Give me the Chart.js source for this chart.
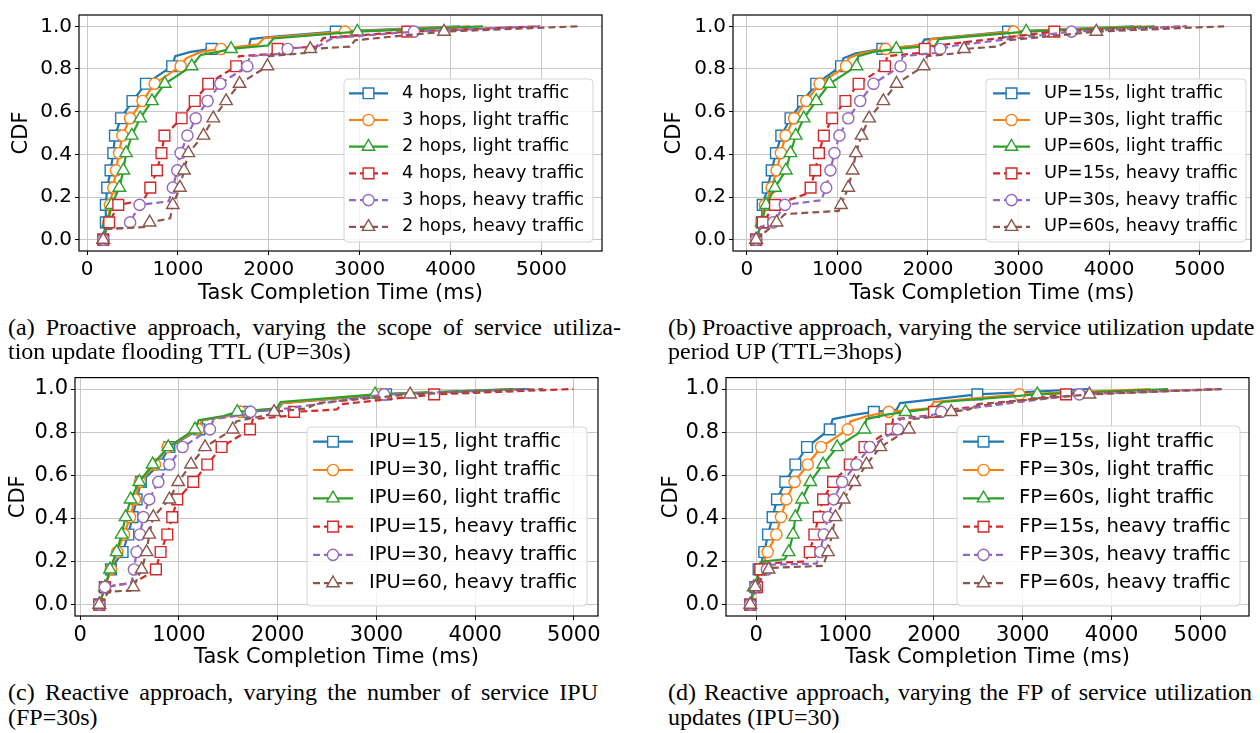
<!DOCTYPE html>
<html>
<head>
<meta charset="utf-8">
<script src="https://cdn.jsdelivr.net/npm/chart.js@4.4.1/dist/chart.umd.min.js"></script>
<style>
  html, body { margin: 0; padding: 0; background: #fff; }
  body { width: 1260px; height: 733px; position: relative; overflow: hidden; }
  canvas { position: absolute; }
  .cap { position: absolute; font-family: "Liberation Serif", "DejaVu Serif", serif; font-size: 24px;
         line-height: 24px; color: #000; white-space: nowrap; }
  .cap.j { text-align: justify; text-align-last: justify; }
</style>
</head>
<body>
<canvas id="chartA" width="630" height="312" style="left:0;top:0"></canvas>
<canvas id="chartB" width="620" height="312" style="left:640px;top:0"></canvas>
<canvas id="chartC" width="630" height="310" style="left:0;top:362px"></canvas>
<canvas id="chartD" width="620" height="310" style="left:640px;top:362px"></canvas>

<div class="cap j" style="left:8px;top:315px;width:613px">(a) Proactive approach, varying the scope of service utiliza-</div>
<div class="cap" style="left:8px;top:339px">tion update flooding TTL (UP=30s)</div>
<div class="cap j" style="left:668px;top:315px;width:584px">(b) Proactive approach, varying the service utilization update</div>
<div class="cap" style="left:668px;top:339px">period UP (TTL=3hops)</div>
<div class="cap j" style="left:8px;top:680px;width:590px">(c) Reactive approach, varying the number of service IPU</div>
<div class="cap" style="left:8px;top:705px">(FP=30s)</div>
<div class="cap j" style="left:668px;top:680px;width:584px">(d) Reactive approach, varying the FP of service utilization</div>
<div class="cap" style="left:668px;top:705px">updates (IPU=30)</div>

<script>
// CDF levels where the markers sit (same for every curve)
var LEVELS = [0, 0.081, 0.163, 0.244, 0.325, 0.406, 0.488, 0.569, 0.650, 0.731, 0.813, 0.894, 0.975];
var X_TICKS = [0, 1000, 2000, 3000, 4000, 5000];
var Y_TICKS = [0, 0.2, 0.4, 0.6, 0.8, 1.0];

var COLORS = ['#1f77b4', '#ff7f0e', '#2ca02c', '#d62728', '#9467bd', '#8c564b'];
var STYLES = ['rect', 'circle', 'triangle', 'rect', 'circle', 'triangle'];

// (a) flooding TTL
var aLabels = ['4 hops, light traffic', '3 hops, light traffic', '2 hops, light traffic',
               '4 hops, heavy traffic', '3 hops, heavy traffic', '2 hops, heavy traffic'];
var aMarkX = [
  [178, 207, 207, 222, 259, 289, 307, 374, 500, 648, 937, 1370, 2736],
  [178, 233, 252, 289, 319, 352, 389, 474, 611, 744, 1030, 1474, 2838],
  [178, 233, 270, 356, 400, 430, 493, 585, 715, 856, 1152, 1585, 2974],
  [178, 244, 344, 696, 770, 819, 852, 1041, 1185, 1333, 1641, 2096, 3524],
  [178, 474, 578, 944, 993, 1030, 1104, 1196, 1326, 1467, 1763, 2207, 3597],
  [178, 689, 944, 1022, 1067, 1115, 1281, 1389, 1530, 1678, 1985, 2456, 3927]
];
var aEndX = [4103, 4213, 4356, 4983, 4983, 5400];
var aKnots = [
  [[970, 0.86], [1140, 0.88], [1780, 0.905], [1800, 0.94], [2000, 0.95]],
  [[1090, 0.85], [1250, 0.88], [1880, 0.915], [1950, 0.945]],
  [[1250, 0.866], [1440, 0.88], [1990, 0.91], [2050, 0.943]],
  [[622, 0.185], [1670, 0.86], [2030, 0.87], [2530, 0.905], [2600, 0.945]],
  [[200, 0.05], [460, 0.055], [900, 0.18], [1790, 0.86], [2100, 0.87], [2560, 0.91], [2700, 0.945]],
  [[200, 0.05], [660, 0.06], [915, 0.1], [2000, 0.86], [2400, 0.875], [2890, 0.905], [2950, 0.935]]
];

// (b) update period UP
var bLabels = ['UP=15s, light traffic', 'UP=30s, light traffic', 'UP=60s, light traffic',
               'UP=15s, heavy traffic', 'UP=30s, heavy traffic', 'UP=60s, heavy traffic'];
var bMarkX = [
  [102, 164, 175, 230, 274, 321, 380, 482, 620, 766, 1040, 1496, 2884],
  [102, 164, 200, 274, 328, 376, 427, 522, 657, 803, 1095, 1533, 2946],
  [102, 164, 212, 310, 431, 482, 540, 628, 766, 912, 1212, 1650, 3085],
  [102, 175, 310, 704, 755, 796, 850, 942, 1088, 1234, 1526, 1964, 3395],
  [102, 292, 420, 876, 923, 967, 1022, 1120, 1252, 1398, 1697, 2135, 3585],
  [102, 328, 1040, 1120, 1168, 1204, 1266, 1350, 1507, 1653, 1953, 2398, 3859]
];
var bEndX = [4273, 4362, 4505, 4856, 4856, 5270];
var bKnots = [
  [[1066, 0.85], [1204, 0.874], [1930, 0.912], [1960, 0.938]],
  [[1120, 0.85], [1260, 0.874], [2000, 0.915], [2030, 0.94]],
  [[1230, 0.86], [1400, 0.88], [2080, 0.91], [2120, 0.94]],
  [[657, 0.215], [1550, 0.86], [1900, 0.875], [2100, 0.91]],
  [[150, 0.06], [821, 0.185], [1720, 0.86], [2080, 0.875], [2300, 0.91]],
  [[420, 0.12], [1015, 0.135], [1990, 0.86], [2350, 0.875], [2770, 0.905], [2900, 0.935]]
];

// (c) number of IPU
var cLabels = ['IPU=15, light traffic', 'IPU=30, light traffic', 'IPU=60, light traffic',
               'IPU=15, heavy traffic', 'IPU=30, heavy traffic', 'IPU=60, heavy traffic'];
var cMarkX = [
  [193, 250, 311, 429, 487, 530, 571, 615, 801, 903, 1207, 1680, 3098],
  [193, 250, 311, 375, 443, 504, 554, 605, 757, 885, 1196, 1625, 3020],
  [193, 250, 301, 368, 419, 459, 510, 598, 733, 892, 1162, 1591, 2987],
  [193, 250, 767, 814, 882, 932, 983, 1145, 1287, 1432, 1720, 2166, 3585],
  [193, 250, 544, 571, 605, 639, 699, 791, 903, 1037, 1314, 1726, 3078],
  [193, 537, 622, 672, 699, 740, 903, 993, 1122, 1264, 1545, 1964, 3342]
];
var cEndX = [4509, 4424, 4388, 4995, 4550, 4690];
var cKnots = [
  [[1240, 0.855], [1500, 0.875], [2000, 0.905], [2050, 0.935]],
  [[1230, 0.855], [1500, 0.875], [2000, 0.91], [2040, 0.935]],
  [[1200, 0.855], [1450, 0.875], [1990, 0.91], [2030, 0.94]],
  [[560, 0.105], [1750, 0.86], [2100, 0.875], [2600, 0.905], [2650, 0.93]],
  [[520, 0.1], [1350, 0.86], [1650, 0.88], [2100, 0.91]],
  [[290, 0.06], [510, 0.065], [1580, 0.85], [1900, 0.88], [2300, 0.91], [2400, 0.935]]
];

// (d) FP of updates
var dLabels = ['FP=15s, light traffic', 'FP=30s, light traffic', 'FP=60s, light traffic',
               'FP=15s, heavy traffic', 'FP=30s, heavy traffic', 'FP=60s, heavy traffic'];
var dMarkX = [
  [-68, -11, 26, 90, 132, 184, 233, 327, 440, 571, 827, 1323, 2489],
  [-68, -11, 45, 128, 226, 278, 338, 432, 579, 729, 1030, 1492, 2962],
  [-68, -30, 45, 365, 414, 440, 515, 609, 752, 910, 1218, 1680, 3164],
  [-68, 8, 45, 602, 654, 703, 752, 865, 1053, 1218, 1519, 2000, 3488],
  [-68, -11, 120, 722, 759, 808, 872, 966, 1128, 1278, 1594, 2083, 3638],
  [-68, -11, 139, 808, 853, 891, 985, 1105, 1241, 1398, 1718, 2195, 3751]
];
var dEndX = [3739, 4434, 4637, 5240, 5240, 5240];
var dKnots = [
  [[60, 0.2], [860, 0.86], [1100, 0.88], [1580, 0.905], [1620, 0.935]],
  [[90, 0.2], [1060, 0.85], [1250, 0.875], [1950, 0.91], [2000, 0.94]],
  [[70, 0.2], [320, 0.21], [1240, 0.86], [1450, 0.88], [2000, 0.91], [2100, 0.94]],
  [[80, 0.19], [553, 0.2], [1540, 0.86], [1900, 0.875], [2300, 0.91]],
  [[150, 0.185], [680, 0.19], [1620, 0.86], [1950, 0.875], [2400, 0.91]],
  [[160, 0.17], [752, 0.18], [1740, 0.86], [2100, 0.875], [2400, 0.905], [2500, 0.93]]
];

var FONT = '"DejaVu Sans", Verdana, sans-serif';
var MARKER_R = { rect: 7.6, circle: 5.6, triangle: 7.2 };

function drawMarker(ctx, style, x, y, r) {
  ctx.beginPath();
  if (style === 'rect') {
    var h = r * Math.SQRT1_2;
    ctx.rect(x - h, y - h, 2 * h, 2 * h);
  } else if (style === 'circle') {
    ctx.arc(x, y, r, 0, Math.PI * 2);
  } else {
    ctx.moveTo(x, y - r);
    ctx.lineTo(x + r * 0.866, y + r * 0.5);
    ctx.lineTo(x - r * 0.866, y + r * 0.5);
    ctx.closePath();
  }
  ctx.fillStyle = '#fff';
  ctx.fill();
  ctx.stroke();
}

// frame round the axes, plus a matplotlib-like legend inside the plot
var frameLegend = {
  id: 'frameLegend',
  afterDatasetsDraw: function (chart, args, o) {
    var ctx = chart.ctx, a = chart.chartArea;
    ctx.save();
    ctx.strokeStyle = '#000';
    ctx.lineWidth = 1.2;
    ctx.strokeRect(a.left, a.top, a.right - a.left, a.bottom - a.top);

    ctx.beginPath();
    if (ctx.roundRect) ctx.roundRect(o.x, o.y, o.w, o.h, 4); else ctx.rect(o.x, o.y, o.w, o.h);
    ctx.fillStyle = 'rgba(255,255,255,0.82)';
    ctx.fill();
    ctx.strokeStyle = '#d5d5d5';
    ctx.lineWidth = 1;
    ctx.stroke();

    chart.data.datasets.forEach(function (ds, i) {
      var y = o.y0 + i * o.row;
      ctx.strokeStyle = ds.borderColor;
      ctx.lineWidth = ds.borderWidth;
      ctx.setLineDash(ds.borderDash || []);
      ctx.beginPath();
      ctx.moveTo(o.lx0, y);
      ctx.lineTo(o.lx1, y);
      ctx.stroke();
      ctx.setLineDash([]);
      ctx.lineWidth = 1.4;
      drawMarker(ctx, ds.pointStyle, (o.lx0 + o.lx1) / 2, y, MARKER_R[ds.pointStyle]);
      ctx.fillStyle = '#000';
      ctx.font = o.font + 'px ' + FONT;
      ctx.textBaseline = 'middle';
      ctx.textAlign = 'left';
      ctx.fillText(ds.label, o.tx, y);
    });
    ctx.restore();
  }
};

function buildDatasets(labels, markX, endX, knots) {
  return labels.map(function (lab, i) {
    var pts = markX[i].map(function (x, k) { return { x: x, y: LEVELS[k], m: true }; });
    knots[i].forEach(function (p) { pts.push({ x: p[0], y: p[1], m: false }); });
    pts.push({ x: endX[i], y: 1.0, m: false });
    pts.sort(function (p, q) { return p.y - q.y || p.x - q.x; });
    var style = STYLES[i];
    return {
      label: lab,
      data: pts,
      borderColor: COLORS[i],
      borderWidth: 2.2,
      borderDash: i >= 3 ? [7, 4] : [],
      pointStyle: style,
      pointRadius: pts.map(function (p) { return p.m ? MARKER_R[style] : 0; }),
      pointBackgroundColor: '#fff',
      pointBorderColor: COLORS[i],
      pointBorderWidth: 1.4,
      pointHoverRadius: 0,
      tension: 0,
      order: labels.length - i
    };
  });
}

function makeChart(id, cfg) {
  var tickFont = { family: FONT, size: cfg.tickSize };
  var titleFont = { family: FONT, size: 21 };
  new Chart(document.getElementById(id), {
    type: 'line',
    data: { datasets: buildDatasets(cfg.labels, cfg.markX, cfg.endX, cfg.knots) },
    options: {
      responsive: false,
      animation: false,
      events: [],
      layout: { padding: cfg.padding },
      plugins: { legend: { display: false }, tooltip: { enabled: false }, frameLegend: cfg.legend },
      scales: {
        x: {
          type: 'linear', min: cfg.xMin, max: cfg.xMax,
          afterBuildTicks: function (s) { s.ticks = X_TICKS.map(function (v) { return { value: v }; }); },
          afterFit: function (s) { s.height = cfg.xHeight; },
          grid: { color: '#c8c8c8', lineWidth: 1, tickColor: '#000', tickLength: 4 },
          border: { display: false },
          ticks: { font: tickFont, color: '#000', padding: 3, maxRotation: 0, autoSkip: false,
                   callback: function (v) { return String(v); } },
          title: { display: true, text: 'Task Completion Time (ms)', font: titleFont, color: '#000',
                   padding: { top: 0, bottom: cfg.xTitlePad } }
        },
        y: {
          type: 'linear', min: -0.053, max: 1.053,
          afterBuildTicks: function (s) { s.ticks = Y_TICKS.map(function (v) { return { value: v }; }); },
          afterFit: function (s) { s.width = cfg.yWidth; },
          grid: { color: '#c8c8c8', lineWidth: 1, tickColor: '#000', tickLength: 4 },
          border: { display: false },
          ticks: { font: tickFont, color: '#000', padding: 3, autoSkip: false,
                   callback: function (v) { return v.toFixed(1); } },
          title: { display: true, text: 'CDF', font: titleFont, color: '#000',
                   padding: { top: cfg.yTitlePad, bottom: 0 } }
        }
      }
    },
    plugins: [frameLegend]
  });
}

makeChart('chartA', {
  labels: aLabels, markX: aMarkX, endX: aEndX, knots: aKnots,
  xMin: -88, xMax: 5665, tickSize: 20,
  padding: { top: 9, right: 28, bottom: 0, left: 0 }, yWidth: 79, xHeight: 61,
  xTitlePad: 6, yTitlePad: 9,
  legend: { x: 344, y: 79, w: 249, h: 163, y0: 93.3, row: 26.7, lx0: 349, lx1: 388, tx: 402, font: 17.7 }
});
makeChart('chartB', {
  labels: bLabels, markX: bMarkX, endX: bEndX, knots: bKnots,
  xMin: -153, xMax: 5567, tickSize: 20,
  padding: { top: 9, right: 5, bottom: 0, left: 0 }, yWidth: 93, xHeight: 61,
  xTitlePad: 6, yTitlePad: 22,
  legend: { x: 346, y: 79, w: 260, h: 163, y0: 93.3, row: 26.7, lx0: 353, lx1: 390, tx: 404, font: 17.8 }
});
makeChart('chartC', {
  labels: cLabels, markX: cMarkX, endX: cEndX, knots: cKnots,
  xMin: -53, xMax: 5245, tickSize: 21,
  padding: { top: 12, right: 32, bottom: 0, left: 0 }, yWidth: 75, xHeight: 56,
  xTitlePad: 2, yTitlePad: 6,
  legend: { x: 307, y: 65, w: 280, h: 179, y0: 79.7, row: 28.3, lx0: 313, lx1: 353, tx: 369, font: 19.5 }
});
makeChart('chartD', {
  labels: dLabels, markX: dMarkX, endX: dEndX, knots: dKnots,
  xMin: -341, xMax: 5548, tickSize: 21,
  padding: { top: 11, right: 11, bottom: 0, left: 0 }, yWidth: 86, xHeight: 56,
  xTitlePad: 2, yTitlePad: 19,
  legend: { x: 317, y: 64, w: 283, h: 180, y0: 79.7, row: 28.3, lx0: 323, lx1: 364, tx: 379, font: 19.7 }
});
</script>
</body>
</html>
